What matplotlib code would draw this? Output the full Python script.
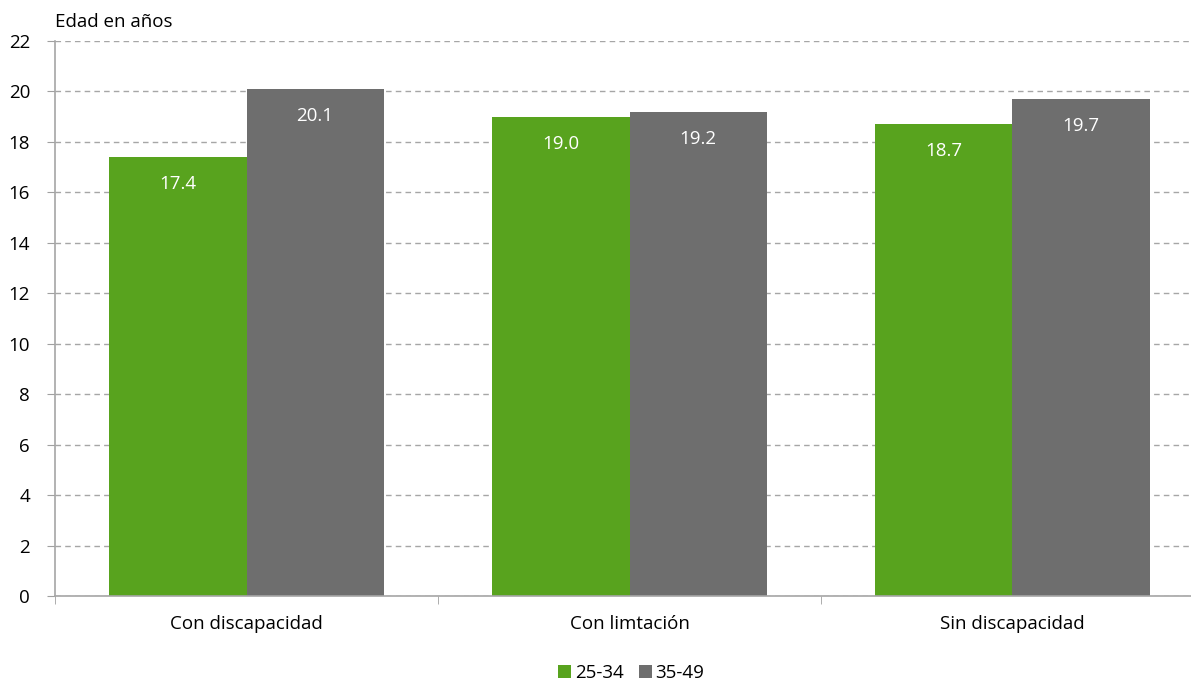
import numpy as np
import matplotlib.pyplot as plt
from matplotlib.ticker import FixedLocator

plt.rcParams['font.family'] = ['Open Sans', 'DejaVu Sans']

# data
categories = ["Con discapacidad", "Con limtación", "Sin discapacidad"]
series_names = ["25-34", "35-49"]
vals_25_34 = [17.4, 19.0, 18.7]
vals_35_49 = [20.1, 19.2, 19.7]
colors = ["#58a31e", "#6e6e6e"]

fig = plt.figure(figsize=(11.91, 6.84), dpi=100)
# right edge runs slightly past the figure, like the source
ax = fig.add_axes([55 / 1191, 1 - 596 / 684, (1204 - 55) / 1191, (596 - 41) / 684])

x = np.arange(len(categories))
w = 0.358
b1 = ax.bar(x - w / 2, vals_25_34, w, color=colors[0], label=series_names[0])
b2 = ax.bar(x + w / 2, vals_35_49, w, color=colors[1], label=series_names[1])

for bars in (b1, b2):
    for r in bars:
        h = r.get_height()
        ax.annotate(f"{h:.1f}", (r.get_x() + r.get_width() / 2, h),
                    xytext=(0, -13), textcoords="offset points",
                    ha="center", va="top", color="white", fontsize=13.5)

ax.set_xlim(-0.5, 2.5)
ax.set_ylim(0, 22)
ax.set_yticks(range(0, 23, 2))
ax.set_xticks(x)
ax.set_xticklabels(categories, fontsize=13.5)
ax.xaxis.set_minor_locator(FixedLocator([-0.5, 0.5, 1.5, 2.5]))
ax.tick_params(axis="x", which="major", length=0, pad=14)
ax.tick_params(axis="x", which="minor", length=6, color="#a0a0a0")
ax.tick_params(axis="y", length=6, color="#a0a0a0", labelsize=13.5, pad=12)

ax.yaxis.grid(True, linestyle=(0, (4, 3)), color="#a6a6a6", linewidth=1)
ax.set_axisbelow(True)
for s in ("top", "right"):
    ax.spines[s].set_visible(False)
for s in ("left", "bottom"):
    ax.spines[s].set_color("#a6a6a6")
    ax.spines[s].set_linewidth(1.2)

ax.text(0, 1.018, "Edad en años", transform=ax.transAxes, fontsize=13.5, ha="left", va="bottom")

fig.legend(handles=[b1, b2], loc="lower center", bbox_to_anchor=(0.53, -0.022), ncol=2,
           frameon=False, fontsize=13.5, handlelength=0.7, handleheight=0.7,
           handletextpad=0.2, columnspacing=0.8)

fig.savefig("out.png", dpi=100)
